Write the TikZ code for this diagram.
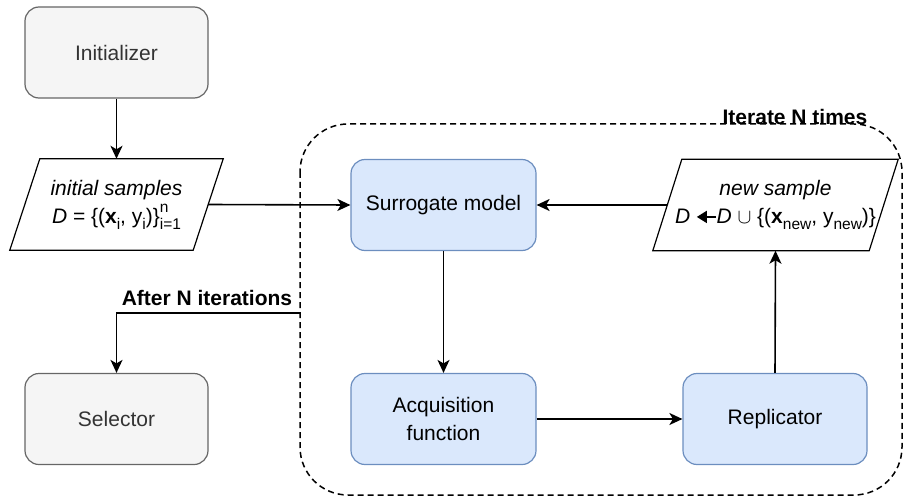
\documentclass[tikz,border=0pt]{standalone}
\usepackage{fontspec}
\setmainfont{Liberation Sans}
\usetikzlibrary{arrows.meta,calc}
\definecolor{grayfill}{HTML}{F5F5F5}
\definecolor{graydraw}{HTML}{666666}
\definecolor{graytext}{HTML}{333333}
\definecolor{bluefill}{HTML}{DAE8FC}
\definecolor{bluedraw}{HTML}{6C8EBF}
\newcommand{\leftarr}{\tikz[baseline=-0.6ex]\draw[line width=1.5pt,{Triangle[length=10pt,width=12pt]}-] (0pt,0pt)--(19pt,0pt);}
\newcommand{\sbs}[1]{\raisebox{-0.28em}{\fontsize{15.5}{15.5}\selectfont #1}}
\newcommand{\supsub}[2]{\rlap{\raisebox{0.5em}{\fontsize{15.5}{15.5}\selectfont #1}}\raisebox{-0.28em}{\fontsize{15.5}{15.5}\selectfont #2}}
\begin{document}
\begin{tikzpicture}[x=1pt,y=-1pt,
  font=\fontsize{21}{28}\selectfont,
  graybox/.style={draw=graydraw, fill=grayfill, text=graytext, rounded corners=14pt, minimum width=183pt, minimum height=91pt, line width=1.2pt, align=center, inner sep=0pt},
  bluebox/.style={draw=bluedraw, fill=bluefill, rounded corners=14pt, minimum width=185pt, minimum height=91pt, line width=1.2pt, align=center, inner sep=0pt},
  datatext/.style={minimum height=91pt, align=center, inner sep=0pt},
  flow/.style={line width=1.6pt, -{Stealth[length=13pt,width=12pt,inset=3.5pt]}},
  region/.style={line width=1.5pt, dash pattern=on 6pt off 4pt, rounded corners=48pt},
  lbl/.style={font=\fontsize{21}{25}\selectfont\bfseries}
]
\useasboundingbox (0,0) rectangle (904,497);

% region
\draw[region] (300,124) rectangle (902,495);

% nodes
\node[graybox] (initz) at (116.5,52.5) {Initializer};
\node[graybox] (sel) at (116.5,419) {Selector};
\node[bluebox] (sur) at (443.5,205) {Surrogate model};
\node[bluebox] (acq) at (443.5,419) {Acquisition\\function};
\node[bluebox, minimum width=184pt] (rep) at (775,419) {Replicator};

\node[datatext, minimum width=183pt] (init) at (116.5,204.5)
  {\itshape initial samples\\
   {\itshape D} = \{(\textbf{x}\sbs{i}, y\sbs{i})\}\supsub{n}{i=1}};
\draw[line width=1.2pt] ($(init.north west)+(15,0)$) -- ($(init.north east)+(15,0)$)
  -- ($(init.south east)+(-15,0)$) -- ($(init.south west)+(-15,0)$) -- cycle;

\node[datatext, minimum width=216pt] (news) at (775.5,205)
  {\itshape new sample\\
   {\itshape D} \leftarr{\itshape D} $\cup$ \{(\textbf{x}\sbs{new}, y\sbs{new})\}};
\draw[line width=1.2pt] ($(news.north west)+(14.5,0)$) -- ($(news.north east)+(14.5,0)$)
  -- ($(news.south east)+(-14.5,0)$) -- ($(news.south west)+(-14.5,0)$) -- cycle;

% labels
\node[lbl] (iterlbl) at (795,117) {Iterate N times};
\node[lbl] (afterlbl) at (207,298) {After N iterations};

% connectors
\coordinate (afterstart) at (300,313);
\draw[flow] (initz.south) -- (init.north);
\draw[flow] (init.east) -- (sur.west);
\draw[flow] (news.west) -- (sur.east);
\draw[flow] (sur.south) -- (acq.north);
\draw[flow] (acq.east) -- (rep.west);
\draw[flow] (rep.north) -- (news.south);
\draw[flow] (afterstart) -- (sel.north |- afterstart) -- (sel.north);
\end{tikzpicture}
\end{document}
